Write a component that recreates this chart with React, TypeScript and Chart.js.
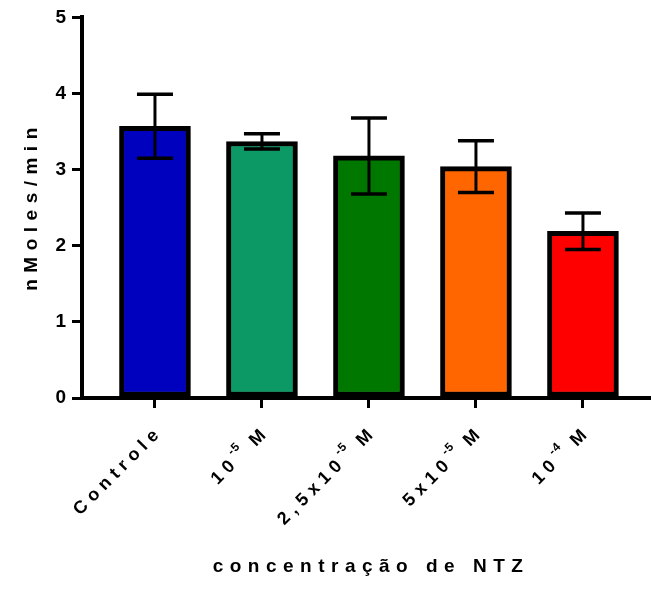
import React, { useEffect, useRef } from "react";
import { Chart, registerables } from "chart.js";
Chart.register(...registerables);

const categories = ["Controle", "10^{-5} M", "2,5x10^{-5} M", "5x10^{-5} M", "10^{-4} M"];
const means = [3.57, 3.37, 3.18, 3.04, 2.19];
const sems = [0.42, 0.1, 0.5, 0.34, 0.24];
const barColors = ["#0000BF", "#0C9966", "#007800", "#FF6600", "#FF0000"];
const yTicks = [0, 1, 2, 3, 4, 5];
const yTitle = "nMoles/min";
const xTitle = "concentração de NTZ";

const FONT = "'Liberation Sans', Arial, sans-serif";

type Piece = { t: string; sup: boolean };
function parseLabel(s: string): Piece[] {
  const parts: Piece[] = [];
  const re = /\^\{([^}]*)\}/g;
  let last = 0;
  let m: RegExpExecArray | null;
  while ((m = re.exec(s))) {
    if (m.index > last) parts.push({ t: s.slice(last, m.index), sup: false });
    parts.push({ t: m[1], sup: true });
    last = re.lastIndex;
  }
  if (last < s.length) parts.push({ t: s.slice(last), sup: false });
  return parts;
}

const errorBarPlugin = {
  id: "errorBars",
  afterDatasetsDraw(chart: any) {
    const { ctx, scales } = chart;
    const xs = scales.x, ys = scales.y;
    ctx.save();
    ctx.strokeStyle = "#000";
    ctx.lineCap = "butt";
    means.forEach((m, i) => {
      const x = xs.getPixelForValue(i);
      const yt = ys.getPixelForValue(m + sems[i]);
      const yb = ys.getPixelForValue(m - sems[i]);
      ctx.lineWidth = 3;
      ctx.beginPath();
      ctx.moveTo(x, yt);
      ctx.lineTo(x, yb);
      ctx.stroke();
      ctx.lineWidth = 3.5;
      ctx.beginPath();
      ctx.moveTo(x - 18, yt);
      ctx.lineTo(x + 18, yt);
      ctx.moveTo(x - 18, yb);
      ctx.lineTo(x + 18, yb);
      ctx.stroke();
    });
    ctx.restore();
  },
};

const textPlugin = {
  id: "texts",
  afterDraw(chart: any) {
    const { ctx, scales, chartArea } = chart;
    const xs = scales.x;
    ctx.save();
    ctx.fillStyle = "#000";
    categories.forEach((c, i) => {
      const pieces = parseLabel(c);
      const x = xs.getPixelForValue(i);
      ctx.save();
      ctx.translate(x + 5, chartArea.bottom + 31);
      ctx.rotate(-Math.PI / 4);
      ctx.textBaseline = "middle";
      ctx.textAlign = "left";
      const setFont = (p: Piece) => {
        ctx.font = p.sup ? `bold 12px ${FONT}` : `bold 18px ${FONT}`;
        (ctx as any).letterSpacing = p.sup ? "1px" : "5.5px";
      };
      const widths = pieces.map((p) => {
        setFont(p);
        return ctx.measureText(p.t).width;
      });
      let cx = -widths.reduce((a, b) => a + b, 0);
      pieces.forEach((p, k) => {
        setFont(p);
        ctx.fillText(p.t, cx, p.sup ? -9 : 0);
        cx += widths[k];
      });
      ctx.restore();
    });
    ctx.font = `bold 19px ${FONT}`;
    (ctx as any).letterSpacing = "6.5px";
    ctx.textAlign = "center";
    ctx.textBaseline = "alphabetic";
    ctx.fillText(xTitle, 371, 572);
    ctx.save();
    ctx.translate(37, 209);
    ctx.rotate(-Math.PI / 2);
    ctx.textAlign = "center";
    ctx.textBaseline = "alphabetic";
    ctx.fillText(yTitle, 3, 0);
    ctx.restore();
    ctx.restore();
  },
};

export default function App() {
  const ref = useRef<HTMLCanvasElement>(null);
  useEffect(() => {
    if (!ref.current) return;
    const chart = new Chart(ref.current, {
      type: "bar",
      data: {
        datasets: [
          {
            data: means.map((y, i) => ({ x: i, y })),
            backgroundColor: barColors,
            borderColor: "#000",
            borderWidth: 5,
            borderSkipped: false,
            barThickness: 71,
          } as any,
        ],
      },
      options: {
        responsive: false,
        animation: false,
        layout: { padding: { top: 16, right: 0, bottom: 0, left: 0 } },
        plugins: { legend: { display: false }, tooltip: { enabled: false } },
        scales: {
          x: {
            type: "linear",
            min: -0.682,
            max: 4.636,
            offset: false,
            afterBuildTicks: (s: any) => {
              s.ticks = categories.map((_, i) => ({ value: i }));
            },
            afterFit: (s: any) => {
              s.height = 192;
            },
            ticks: { display: false },
            grid: { offset: false, drawOnChartArea: false, drawTicks: true, tickLength: 10, lineWidth: 3, color: "#000" },
            border: { display: true, width: 4, color: "#000" },
          },
          y: {
            min: 0,
            max: 5,
            afterBuildTicks: (s: any) => {
              s.ticks = yTicks.map((v) => ({ value: v }));
            },
            afterFit: (s: any) => {
              s.width = 82;
            },
            ticks: { color: "#000", font: { family: FONT, weight: "bold", size: 19 }, padding: 6 },
            grid: { offset: false, drawOnChartArea: false, drawTicks: true, tickLength: 10, lineWidth: 3, color: "#000" },
            border: { display: true, width: 4, color: "#000" },
          },
        } as any,
      },
      plugins: [errorBarPlugin, textPlugin],
    });
    return () => chart.destroy();
  }, []);
  return (
    <div style={{ position: "fixed", left: 0, top: 0, width: 651, height: 590, background: "#fff" }}>
      <canvas ref={ref} width={651} height={590} />
    </div>
  );
}
